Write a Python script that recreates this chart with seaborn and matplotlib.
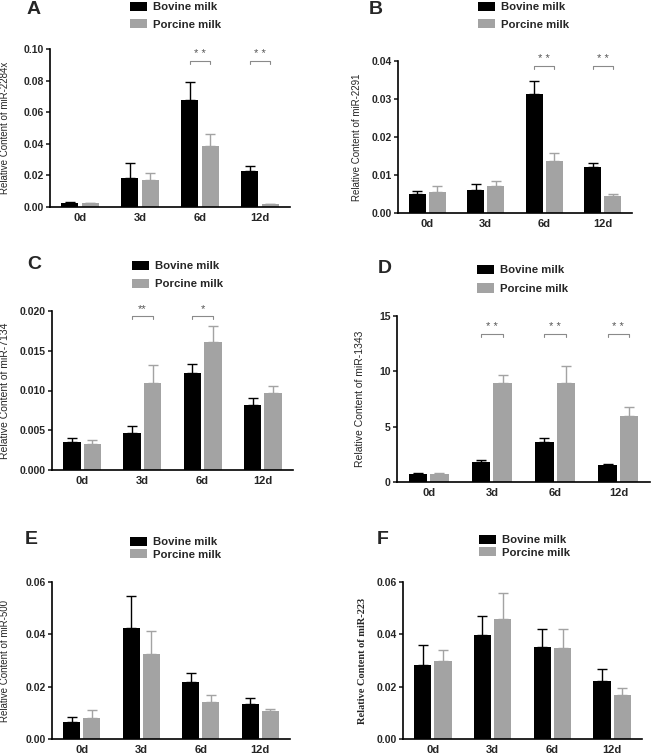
import pandas as pd
import seaborn as sns
import matplotlib.pyplot as plt
from matplotlib.ticker import MultipleLocator, FormatStrFormatter
from matplotlib.patches import Patch

days = ['0d', '3d', '6d', '12d']
milks = ['Bovine milk', 'Porcine milk']

# values (mean and upper SD bar)
a_bov = [0.0028, 0.0184, 0.0679, 0.0228]
a_bov_sd = [0.0005, 0.0093, 0.0112, 0.0030]
a_por = [0.0023, 0.0171, 0.0387, 0.0019]
a_por_sd = [0.0004, 0.0042, 0.0074, 0.0003]

b_bov = [0.0050, 0.0060, 0.0312, 0.0120]
b_bov_sd = [0.0008, 0.0016, 0.0036, 0.0012]
b_por = [0.0056, 0.0071, 0.0138, 0.0044]
b_por_sd = [0.0014, 0.0013, 0.0021, 0.0006]

c_bov = [0.00356, 0.0047, 0.01224, 0.00813]
c_bov_sd = [0.00051, 0.00083, 0.00105, 0.00093]
c_por = [0.00323, 0.01099, 0.01606, 0.00969]
c_por_sd = [0.00059, 0.00218, 0.00205, 0.00088]

d_bov = [0.75, 1.85, 3.58, 1.58]
d_bov_sd = [0.08, 0.1, 0.42, 0.07]
d_por = [0.72, 8.95, 8.95, 5.99]
d_por_sd = [0.08, 0.69, 1.50, 0.79]

e_bov = [0.0066, 0.0424, 0.0218, 0.0134]
e_bov_sd = [0.0018, 0.0124, 0.0036, 0.0023]
e_por = [0.0080, 0.0326, 0.0141, 0.0107]
e_por_sd = [0.0029, 0.0086, 0.0026, 0.0008]

f_bov = [0.0284, 0.0398, 0.0353, 0.0222]
f_bov_sd = [0.0075, 0.0071, 0.0069, 0.0046]
f_por = [0.0299, 0.0458, 0.0346, 0.0170]
f_por_sd = [0.0042, 0.0101, 0.0076, 0.0023]

# significance marks: (day index, label)
a_sig = [(2, '* *'), (3, '* *')]
b_sig = [(2, '* *'), (3, '* *')]
c_sig = [(1, '**'), (2, '*')]
d_sig = [(1, '* *'), (2, '* *'), (3, '* *')]

sns.set_style('ticks')
plt.rcParams['font.family'] = ['Liberation Sans', 'DejaVu Sans']

W, H = 653, 754
fig = plt.figure(figsize=(W / 100, H / 100), dpi=100)
colors = ['#000000', '#a3a3a3']


def px_axes(x0, x1, ytop, ybot):
    return fig.add_axes([x0 / W, 1 - ybot / H, (x1 - x0) / W, (ybot - ytop) / H])


def panel(box, bov, bov_sd, por, por_sd, ymax, step, fmt, ylabel, letter, letter_xy,
          leg_xy, leg_space, sig=None, sig_y=None, lab_px=10, lab_size=7, serif=False):
    ax = px_axes(*box)
    df = pd.DataFrame({'day': days * 2, 'milk': [milks[0]] * 4 + [milks[1]] * 4,
                       'value': bov + por})
    sns.barplot(data=df, x='day', y='value', hue='milk', order=days, hue_order=milks,
                palette=colors, width=0.68, gap=0.15, errorbar=None, legend=False,
                saturation=1, linewidth=0, ax=ax)
    for cont, sds, col in zip(ax.containers, [bov_sd, por_sd], colors):
        for bar, sd in zip(cont, sds):
            xc = bar.get_x() + bar.get_width() / 2
            ax.errorbar(xc, bar.get_height(), yerr=[[0], [sd]], color=col, lw=1,
                        capsize=3.5, capthick=1, zorder=1)
    if sig:
        tick = ymax * 0.02
        for i, lab in sig:
            b0 = ax.containers[0][i]
            b1 = ax.containers[1][i]
            x0 = b0.get_x() + b0.get_width() / 2
            x1 = b1.get_x() + b1.get_width() / 2
            ax.plot([x0, x0, x1, x1], [sig_y - tick, sig_y, sig_y, sig_y - tick],
                    color='#8a8a8a', lw=0.8)
            ax.text((x0 + x1) / 2, sig_y + tick * 0.5, lab, ha='center', va='bottom',
                    fontsize=8, color='#555555')
    ax.set_xlim(-0.5, 3.5)
    ax.set_ylim(0, ymax)
    ax.yaxis.set_major_locator(MultipleLocator(step))
    ax.yaxis.set_major_formatter(FormatStrFormatter(fmt))
    sns.despine(ax=ax)
    for s in ['left', 'bottom']:
        ax.spines[s].set_linewidth(1.2)
        ax.spines[s].set_color('black')
    ax.tick_params(axis='y', length=3, width=1.2, labelsize=7.5, pad=1.5)
    ax.tick_params(axis='x', length=0, labelsize=8, pad=4)
    for t in ax.get_xticklabels() + ax.get_yticklabels():
        t.set_fontweight('bold')
    ax.set_xlabel('')
    if serif:
        ax.set_ylabel(ylabel, fontsize=lab_size, family='Liberation Serif', fontweight='bold')
    else:
        ax.set_ylabel(ylabel, fontsize=lab_size)
    ax.yaxis.set_label_coords((lab_px - box[0]) / (box[1] - box[0]), 0.5)
    fig.text(letter_xy[0] / W, 1 - letter_xy[1] / H, letter, fontsize=14,
             fontweight='bold', va='top', ha='left')
    handles = [Patch(facecolor=c, edgecolor='none') for c in colors]
    leg = ax.legend(handles, milks, loc='upper left',
                    bbox_to_anchor=(leg_xy[0] / W, 1 - leg_xy[1] / H),
                    bbox_transform=fig.transFigure, frameon=False, fontsize=8.2,
                    handlelength=1.45, handleheight=0.85, handletextpad=0.6,
                    borderpad=0, borderaxespad=0, labelspacing=leg_space)
    for t in leg.get_texts():
        t.set_fontweight('bold')
    return ax


panel((50, 290, 49, 207), a_bov, a_bov_sd, a_por, a_por_sd, 0.10, 0.02, '%.2f',
      'Relative Content of miR-2284x', 'A', (27, 1), (130, 2), 0.6,
      sig=a_sig, sig_y=0.0926, lab_px=10)
panel((398, 632, 61, 213), b_bov, b_bov_sd, b_por, b_por_sd, 0.04, 0.01, '%.2f',
      'Relative Content of miR-2291', 'B', (369, 1), (478, 2), 0.6,
      sig=b_sig, sig_y=0.0387, lab_px=362)
panel((52, 293, 311, 470), c_bov, c_bov_sd, c_por, c_por_sd, 0.020, 0.005, '%.3f',
      'Relative Content of miR-7134', 'C', (27, 256), (132, 261), 0.65,
      sig=c_sig, sig_y=0.0194, lab_px=10, lab_size=7.5)
panel((397, 650, 316, 482), d_bov, d_bov_sd, d_por, d_por_sd, 15, 5, '%d',
      'Relative Content of miR-1343', 'D', (378, 260), (477, 265), 0.7,
      sig=d_sig, sig_y=13.4, lab_px=365, lab_size=7.5)
panel((52, 290, 582, 739), e_bov, e_bov_sd, e_por, e_por_sd, 0.06, 0.02, '%.2f',
      'Relative Content of miR-500', 'E', (25, 531), (130, 537), 0.15,
      lab_px=10)
panel((403, 642, 582, 739), f_bov, f_bov_sd, f_por, f_por_sd, 0.06, 0.02, '%.2f',
      'Relative Content of miR-223', 'F', (377, 531), (479, 535), 0.15,
      lab_px=367, lab_size=7.5, serif=True)

fig.savefig('out.png', dpi=100)
